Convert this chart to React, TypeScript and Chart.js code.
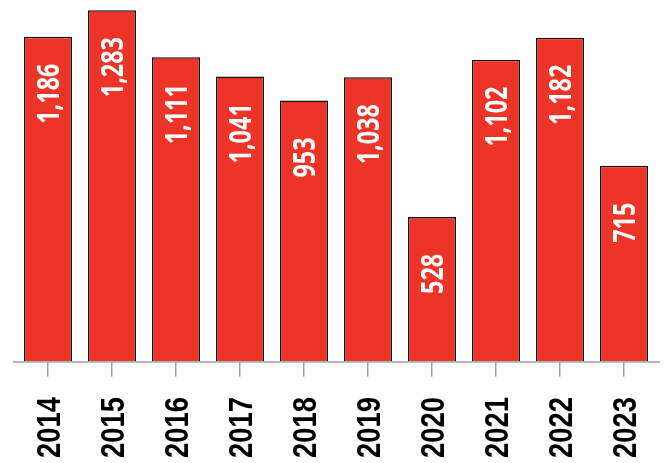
import { useEffect, useRef } from "react";
import Chart from "chart.js/auto";

const years = ["2014", "2015", "2016", "2017", "2018", "2019", "2020", "2021", "2022", "2023"];
const totals = [1186, 1283, 1111, 1041, 953, 1038, 528, 1102, 1182, 715];

const barRed = "#EE3327";
const labelFont = "'Liberation Sans', Arial, sans-serif";
const valueFont = "'Open Sans', 'Liberation Sans', sans-serif";

// draws rotated text reading bottom-to-top, squeezed along its length
function drawUpText(ctx: any, text: string, x: number, y: number, squeeze: number, capHalf: number, align: string) {
  ctx.save();
  ctx.translate(x, y);
  ctx.rotate(-Math.PI / 2);
  ctx.scale(squeeze, 1);
  ctx.textAlign = align;
  ctx.textBaseline = "alphabetic";
  ctx.fillText(text, 0, capHalf);
  ctx.restore();
}

const valueLabels = {
  id: "valueLabels",
  afterDatasetsDraw(chart: any) {
    const ctx = chart.ctx;
    const meta = chart.getDatasetMeta(0);
    ctx.save();
    ctx.fillStyle = "#ffffff";
    ctx.font = `bold 30px ${valueFont}`;
    meta.data.forEach((bar: any, i: number) => {
      drawUpText(ctx, totals[i].toLocaleString("en-US"), bar.x, bar.y + 57, 0.78, 10.8, "center");
    });
    ctx.restore();
  },
};

const axisLabels = {
  id: "axisLabels",
  afterDraw(chart: any) {
    const { ctx, chartArea } = chart;
    const xs = chart.scales.x;
    ctx.save();
    ctx.strokeStyle = "#a0a0a0";
    ctx.lineWidth = 1.5;
    ctx.beginPath();
    ctx.moveTo(chartArea.left - 3, chartArea.bottom + 0.5);
    ctx.lineTo(chartArea.right + 4, chartArea.bottom + 0.5);
    ctx.stroke();
    ctx.fillStyle = "#000000";
    ctx.font = `bold 33px ${labelFont}`;
    years.forEach((label, i) => {
      drawUpText(ctx, label, xs.getPixelForTick(i), chartArea.bottom + 35.5, 0.83, 11.8, "right");
    });
    ctx.restore();
  },
};

export default function App() {
  const canvasRef = useRef<HTMLCanvasElement | null>(null);

  useEffect(() => {
    if (!canvasRef.current) return;
    const chart = new Chart(canvasRef.current.getContext("2d")!, {
      type: "bar",
      data: {
        labels: years,
        datasets: [{
          data: totals,
          backgroundColor: barRed,
          borderColor: "#111111",
          borderWidth: 1.5,
          borderSkipped: "bottom",
          barPercentage: 0.75,
          categoryPercentage: 1,
        }],
      },
      options: {
        animation: false,
        responsive: true,
        maintainAspectRatio: false,
        layout: { padding: { left: 16, right: 10, top: 0, bottom: 0 } },
        plugins: { legend: { display: false }, tooltip: { enabled: false } },
        scales: {
          y: { display: false, min: 0, max: 1320 },
          x: {
            border: { display: false },
            grid: { offset: false, drawOnChartArea: false, drawTicks: true, tickLength: 15, color: "#a0a0a0", lineWidth: 1.5 },
            ticks: { display: false },
            afterFit(scale: any) {
              scale.height = 101.5;
            },
          },
        },
      },
      plugins: [valueLabels, axisLabels],
    });
    return () => chart.destroy();
  }, []);

  return (
    <div style={{ position: "absolute", left: 0, top: 0, width: 666, height: 463, background: "#fff" }}>
      <canvas ref={canvasRef} />
    </div>
  );
}
